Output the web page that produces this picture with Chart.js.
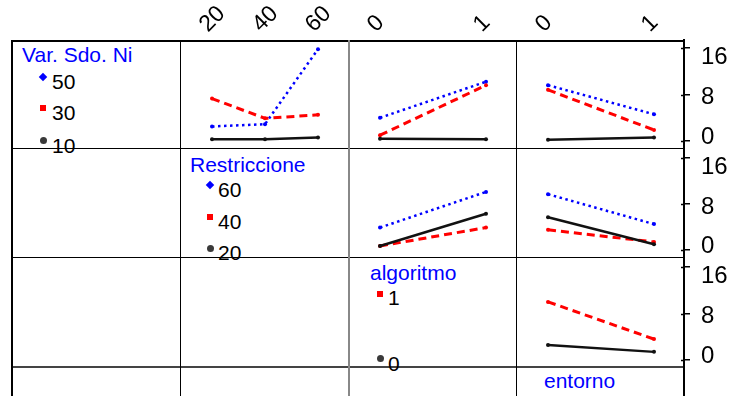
<!DOCTYPE html>
<html>
<head>
<meta charset="utf-8">
<script src="https://cdn.jsdelivr.net/npm/chart.js@4.4.1/dist/chart.umd.min.js"></script>
<style>
  body { margin: 0; background: #fff; font-family: "Liberation Sans", Arial, sans-serif; }
  #wrap { position: relative; width: 731px; height: 396px; overflow: hidden; background: #fff; }
  #wrap canvas { position: absolute; }
  .ln { position: absolute; background: #000; }
  .txt { position: absolute; font-size: 21px; line-height: 21px; white-space: nowrap; color: #000; }
  .title { color: #0000ff; }
  .mk { position: absolute; }
</style>
</head>
<body>
<div id="wrap"></div>
<script>
// factor levels on the x axes
const restriccione = [20, 40, 60];
const algoritmo = [0, 1];
const entorno = [0, 1];
const yTicks = [0, 8, 16];

// rows traced by Var. Sdo. Ni (50 / 30 / 10)
const sdo50Restr = [2.5, 2.9, 15.8];
const sdo30Restr = [7.3, 3.9, 4.5];
const sdo10Restr = [0.3, 0.3, 0.6];
const sdo50Alg = [4.0, 10.2];
const sdo30Alg = [1.0, 9.6];
const sdo10Alg = [0.4, 0.3];
const sdo50Ent = [9.6, 4.6];
const sdo30Ent = [8.8, 1.9];
const sdo10Ent = [0.2, 0.6];

// traced by Restriccione (60 / 40 / 20)
const r60Alg = [3.9, 10.1];
const r40Alg = [0.7, 3.9];
const r20Alg = [0.7, 6.3];
const r60Ent = [9.7, 4.5];
const r40Ent = [3.5, 1.4];
const r20Ent = [5.7, 1.0];

// traced by algoritmo (1 / 0)
const alg1Ent = [10.0, 3.6];
const alg0Ent = [2.6, 1.4];

const FONT = "'Liberation Sans', Arial, sans-serif";
const wrap = document.getElementById("wrap");

const BLUE = { color: "#0000ff", width: 2.5, dash: [2.5, 3.5] };
const RED = { color: "#ff0000", width: 3, dash: [8, 5] };
const BLACK = { color: "#111111", width: 2.5, dash: [] };

// grid of the matrix
function line(x, y, w, h, color) {
  const d = document.createElement("div");
  d.className = "ln";
  Object.assign(d.style, { left: x + "px", top: y + "px", width: w + "px", height: h + "px" });
  if (color) d.style.background = color;
  wrap.appendChild(d);
}
line(12, 40, 672, 1.5);
line(12, 148, 672, 1);
line(12, 257, 672, 1);
line(12, 366, 672, 1.5, "#444");
line(11, 40, 2, 356);
line(179.5, 40, 1, 356);
line(347.5, 40, 2, 356, "#888");
line(515.5, 40, 1.5, 356);
line(683, 366, 2, 30);

// legends in the diagonal cells
function text(str, x, y, cls) {
  const d = document.createElement("div");
  d.className = "txt" + (cls ? " " + cls : "");
  d.textContent = str;
  d.style.left = x + "px";
  d.style.top = y + "px";
  wrap.appendChild(d);
}
function marker(kind, x, y) {
  const d = document.createElement("div");
  d.className = "mk";
  const s = kind === "circle" ? 7 : 6;
  Object.assign(d.style, { left: (x - s / 2) + "px", top: (y - s / 2) + "px", width: s + "px", height: s + "px" });
  if (kind === "diamond") { d.style.background = "#0000ff"; d.style.transform = "rotate(45deg)"; }
  if (kind === "square") d.style.background = "#ff0000";
  if (kind === "circle") { d.style.background = "#3a3a3a"; d.style.borderRadius = "50%"; }
  wrap.appendChild(d);
}

text("Var. Sdo. Ni", 22, 44, "title");
marker("diamond", 43, 77); text("50", 52, 71);
marker("square", 43, 108); text("30", 52, 102);
marker("circle", 43, 140); text("10", 52, 135);

text("Restriccione", 190, 154, "title");
marker("diamond", 210, 185); text("60", 218, 179);
marker("square", 210, 217); text("40", 218, 211);
marker("circle", 210, 248); text("20", 218, 242);

text("algoritmo", 370, 262, "title");
marker("square", 380, 294); text("1", 388, 287);
marker("circle", 380, 358); text("0", 388, 353);

text("entorno", 544, 370, "title");

function series(xs, ys, st) {
  return {
    data: xs.map((x, i) => ({ x: x, y: ys[i] })),
    borderColor: st.color,
    backgroundColor: st.color,
    borderWidth: st.width,
    borderDash: st.dash,
    pointRadius: 2,
    pointBorderWidth: 0,
    tension: 0,
    clip: false
  };
}

const CELL_W = 168;
const rows = [
  { top: 40, h: 108, min: -1.2, max: 17.38 },
  { top: 148, h: 109, min: -1.22, max: 17.74 },
  { top: 257, h: 109, min: -1.03, max: 17.72 }
];
const binRange = { min: -0.302, max: 1.283 };
const restrRange = { min: 7.92, max: 71.32 };

// tick marks of the right axis cross the axis line
const crossTicks = {
  id: "crossTicks",
  afterDraw(chart) {
    const y = chart.scales.y;
    if (!y.options.display) return;
    const ctx = chart.ctx;
    ctx.save();
    ctx.strokeStyle = "#000";
    ctx.lineWidth = 1.5;
    y.ticks.forEach((t) => {
      const py = Math.round(y.getPixelForValue(t.value)) + 0.5;
      ctx.beginPath();
      ctx.moveTo(y.left - 3, py);
      ctx.lineTo(y.left, py);
      ctx.stroke();
    });
    ctx.restore();
  }
};

function panel(p) {
  const row = rows[p.row];
  const axH = p.topAxis ? 40 : 0;
  const axW = p.rightAxis ? 47 : 0;
  const padT = p.rightAxis && !p.topAxis ? 12 : 0;
  const padB = p.rightAxis ? 12 : 0;
  const c = document.createElement("canvas");
  c.width = CELL_W + axW;
  c.height = row.h + axH + padT + padB;
  c.style.left = p.left + "px";
  c.style.top = (row.top - axH - padT) + "px";
  c.style.width = c.width + "px";
  c.style.height = c.height + "px";
  wrap.appendChild(c);

  new Chart(c, {
    type: "line",
    data: { datasets: p.datasets },
    plugins: [crossTicks],
    options: {
      responsive: false,
      animation: false,
      devicePixelRatio: 1,
      layout: { autoPadding: false, padding: { top: padT, bottom: padB, left: 0, right: 0 } },
      plugins: { legend: { display: false }, tooltip: { enabled: false } },
      scales: {
        x: {
          type: "linear",
          position: "top",
          min: p.range.min,
          max: p.range.max,
          display: !!p.topAxis,
          grid: { display: false },
          border: { display: false },
          afterBuildTicks: (s) => { s.ticks = p.levels.map((v) => ({ value: v })); },
          afterFit: (s) => {
            s.height = axH;
            s.paddingLeft = 0;
            s.paddingRight = 0;
          },
          ticks: {
            autoSkip: false,
            minRotation: 45,
            maxRotation: 45,
            padding: -6,
            labelOffset: 11,
            color: "#000",
            font: { family: FONT, size: 23 },
            callback: (v) => String(v)
          }
        },
        y: {
          position: "right",
          min: row.min,
          max: row.max,
          display: !!p.rightAxis,
          grid: { display: true, drawOnChartArea: false, tickLength: 6, color: "#000", lineWidth: 1.5 },
          border: { display: true, color: "#000", width: 2 },
          afterBuildTicks: (s) => { s.ticks = yTicks.map((v) => ({ value: v })); },
          afterFit: (s) => {
            s.width = axW;
            s.paddingTop = 0;
            s.paddingBottom = 0;
          },
          ticks: {
            padding: 11,
            labelOffset: 3,
            color: "#000",
            font: { family: FONT, size: 24, lineHeight: 0.55 },
            callback: (v) => {
              if (v === yTicks[yTicks.length - 1]) return ["", String(v)];
              if (v === yTicks[0]) return [String(v), ""];
              return String(v);
            }
          }
        }
      }
    }
  });
}

// row 1: Var. Sdo. Ni
panel({ row: 0, left: 180, levels: restriccione, range: restrRange, topAxis: true,
  datasets: [series(restriccione, sdo10Restr, BLACK), series(restriccione, sdo30Restr, RED), series(restriccione, sdo50Restr, BLUE)] });
panel({ row: 0, left: 348, levels: algoritmo, range: binRange, topAxis: true,
  datasets: [series(algoritmo, sdo10Alg, BLACK), series(algoritmo, sdo30Alg, RED), series(algoritmo, sdo50Alg, BLUE)] });
panel({ row: 0, left: 516, levels: entorno, range: binRange, topAxis: true, rightAxis: true,
  datasets: [series(entorno, sdo10Ent, BLACK), series(entorno, sdo30Ent, RED), series(entorno, sdo50Ent, BLUE)] });

// row 2: Restriccione
panel({ row: 1, left: 348, levels: algoritmo, range: binRange,
  datasets: [series(algoritmo, r20Alg, BLACK), series(algoritmo, r40Alg, RED), series(algoritmo, r60Alg, BLUE)] });
panel({ row: 1, left: 516, levels: entorno, range: binRange, rightAxis: true,
  datasets: [series(entorno, r20Ent, BLACK), series(entorno, r40Ent, RED), series(entorno, r60Ent, BLUE)] });

// row 3: algoritmo
panel({ row: 2, left: 516, levels: entorno, range: binRange, rightAxis: true,
  datasets: [series(entorno, alg0Ent, BLACK), series(entorno, alg1Ent, RED)] });
</script>
</body>
</html>
